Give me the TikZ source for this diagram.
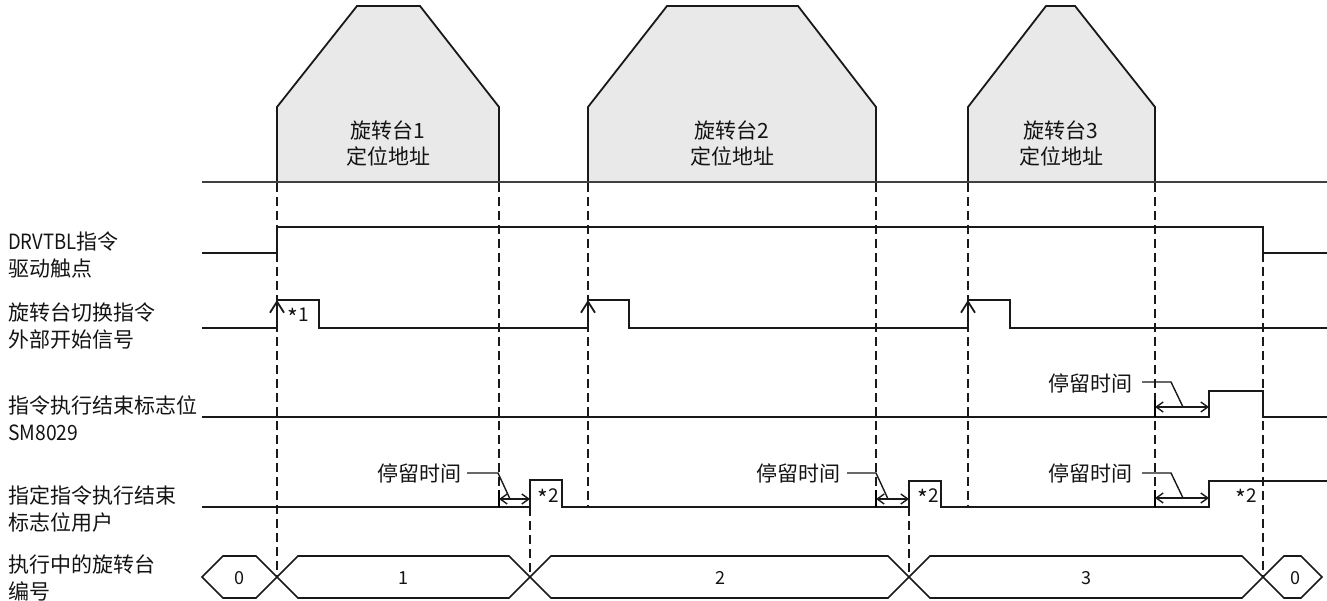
\documentclass[tikz,border=0pt]{standalone}
\usepackage{fontspec}
\setmainfont{Noto Sans CJK SC}
\usetikzlibrary{arrows.meta}
\newcommand{\astk}{\raisebox{-4.5pt}{\fontsize{23}{23}\selectfont *}\kern0.5pt}
\begin{document}
\begin{tikzpicture}[x=1pt,y=-1pt,
  sig/.style={line width=1.8pt, draw=black!90, line join=miter},
  guide/.style={line width=1.5pt, draw=black!90, dash pattern=on 9pt off 5pt},
  base/.style={line width=1.3pt, draw=black!75},
  prof/.style={fill=gray!17, draw=black!90, line width=1.8pt, line join=miter},
  bus/.style={line width=1.6pt, draw=black!90},
  lbl/.style={font=\fontsize{21}{27}\selectfont, align=left, anchor=west, text=black!92, inner sep=0pt},
  ptxt/.style={font=\fontsize{21}{26}\selectfont, align=center, text=black!92, inner sep=0pt},
  small/.style={font=\fontsize{18}{20}\selectfont, text=black!92, inner sep=0pt},
  star/.style={font=\fontsize{19}{20}\selectfont, text=black!92, inner sep=0pt},
  dwell/.style={font=\fontsize{21}{24}\selectfont, anchor=east, text=black!92, inner sep=0pt},
  dim/.style={line width=1.4pt, draw=black!90, {Straight Barb[length=7pt,width=10pt]}-{Straight Barb[length=7pt,width=10pt]}},
  lead/.style={line width=1.4pt, draw=black!90},
  upar/.style={line width=1.8pt, draw=black!90, -{Straight Barb[length=11pt,width=14pt]}}
]
\useasboundingbox (0,0) rectangle (1327,601);

% profiles
\draw[prof] (277,182) -- (277,107) -- (357,6) -- (420,6) -- (499,107) -- (499,182) -- cycle;
\draw[prof] (588,182) -- (588,107) -- (667,6) -- (798,6) -- (876,107) -- (876,182) -- cycle;
\draw[prof] (968,182) -- (968,107) -- (1046,6) -- (1075,6) -- (1155,107) -- (1155,182) -- cycle;
\draw[base] (202,182) -- (1327,182);
\node[ptxt] (p1) at (388,144) {旋转台1\\定位地址};
\node[ptxt] (p2) at (732,144) {旋转台2\\定位地址};
\node[ptxt] (p3) at (1061,144) {旋转台3\\定位地址};

% dashed guides
\foreach \gx in {499,588,876,968,1155} \draw[guide] (\gx,183) -- (\gx,507);
\draw[guide] (277,183) -- (277,577);
\draw[guide] (530,507) -- (530,577);
\draw[guide] (909,507) -- (909,577);
\draw[guide] (1263,253) -- (1263,577);

% left labels
\node[lbl] (l1) at (8,255) {\scalebox{0.88}[1]{DRVTBL}指令\\驱动触点};
\node[lbl] (l2) at (8,326.5) {旋转台切换指令\\外部开始信号};
\node[lbl] (l3) at (8,418) {指令执行结束标志位\\\scalebox{0.92}[1]{SM8029}};
\node[lbl] (l4) at (8,509.5) {指定指令执行结束\\标志位用户};
\node[lbl] (l5) at (8,577.5) {执行中的旋转台\\编号};

% DRVTBL
\draw[sig] (202,253) -- (277,253) -- (277,227) -- (1263,227) -- (1263,253) -- (1327,253);

% switching signal
\draw[sig] (202,328) -- (277,328) -- (277,300) -- (319,300) -- (319,328) -- (588,328) -- (588,300) -- (629,300) -- (629,328) -- (968,328) -- (968,300) -- (1010,300) -- (1010,328) -- (1327,328);
\coordinate (a1s) at (277,322); \coordinate (a1e) at (277,300);
\coordinate (a2s) at (588,322); \coordinate (a2e) at (588,300);
\coordinate (a3s) at (968,322); \coordinate (a3e) at (968,300);
\draw[upar] (a1s) -- (a1e);
\draw[upar] (a2s) -- (a2e);
\draw[upar] (a3s) -- (a3e);
\node[star] (s1) at (298,317) {\astk1};

% SM8029
\draw[sig] (202,417) -- (1209,417) -- (1209,391) -- (1263,391) -- (1263,417) -- (1327,417);

% user flag
\draw[sig] (202,507) -- (530,507) -- (530,480) -- (562,480) -- (562,507) -- (909,507) -- (909,481) -- (941,481) -- (941,507) -- (1209,507) -- (1209,481) -- (1327,481);
\node[star] (s2a) at (548,498) {\astk2};
\node[star] (s2b) at (928,498) {\astk2};
\node[star] (s2c) at (1246,498) {\astk2};

% dwell annotations
\node[dwell] (d1) at (462,473) {停留时间};
\draw[lead] (467,473) -- (498,473) -- (510,499);
\draw[line width=1.4pt] (499,490) -- (499,507);
\coordinate (d1a) at (499,499); \coordinate (d1b) at (530,499);
\draw[dim] (d1a) -- (d1b);

\node[dwell] (d2) at (841,473) {停留时间};
\draw[lead] (847,473) -- (876,473) -- (888,499);
\draw[line width=1.4pt] (876,490) -- (876,507);
\coordinate (d2a) at (876,499); \coordinate (d2b) at (909,499);
\draw[dim] (d2a) -- (d2b);

\node[dwell] (d3) at (1133,473) {停留时间};
\draw[lead] (1142,473) -- (1171,473) -- (1183,498);
\draw[line width=1.4pt] (1155,490) -- (1155,507);
\coordinate (d3a) at (1155,498); \coordinate (d3b) at (1209,498);
\draw[dim] (d3a) -- (d3b);

\node[dwell] (d4) at (1133,383) {停留时间};
\draw[lead] (1142,382) -- (1171,382) -- (1183,407);
\draw[line width=1.4pt] (1155,400) -- (1155,417);
\coordinate (d4a) at (1155,407); \coordinate (d4b) at (1209,407);
\draw[dim] (d4a) -- (d4b);

% bus
\draw[bus] (202,577) -- (223,556) -- (256,556) -- (277,577) -- (256,598) -- (223,598) -- cycle;
\draw[bus] (277,577) -- (298,556) -- (509,556) -- (530,577) -- (509,598) -- (298,598) -- cycle;
\draw[bus] (530,577) -- (551,556) -- (888,556) -- (909,577) -- (888,598) -- (551,598) -- cycle;
\draw[bus] (909,577) -- (930,556) -- (1242,556) -- (1263,577) -- (1242,598) -- (930,598) -- cycle;
\draw[bus] (1263,577) -- (1284,556) -- (1301,556) -- (1322,577) -- (1301,598) -- (1284,598) -- cycle;
\node[small] (b0) at (239,578) {0};
\node[small] (b1) at (403,578) {1};
\node[small] (b2) at (720,578) {2};
\node[small] (b3) at (1086,578) {3};
\node[small] (b4) at (1295,578) {0};
\end{tikzpicture}
\end{document}
